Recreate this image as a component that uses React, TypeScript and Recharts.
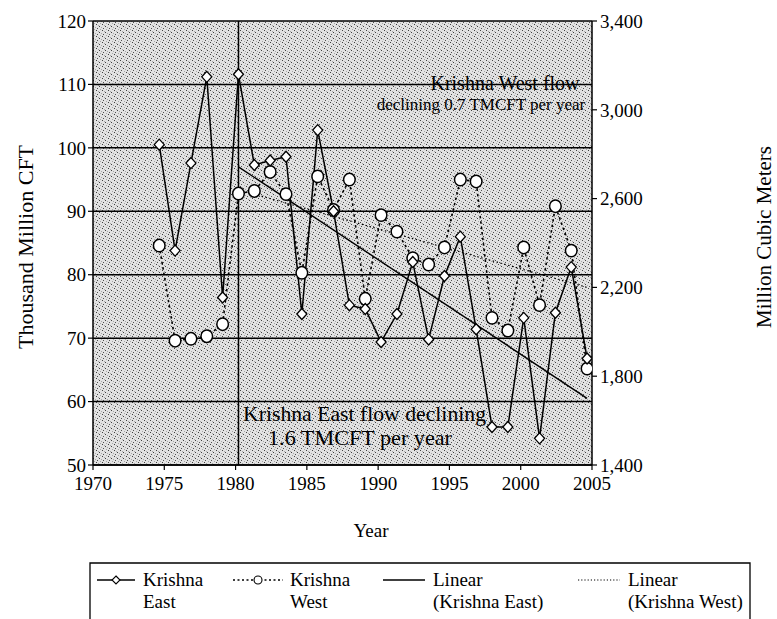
import React from 'react';
import { LineChart, Line, XAxis, YAxis, CartesianGrid, ReferenceLine } from 'recharts';

const years = [1974, 1975, 1976, 1977, 1978, 1979, 1980, 1981, 1982, 1983, 1984, 1985, 1986, 1987,
  1988, 1989, 1990, 1991, 1992, 1993, 1994, 1995, 1996, 1997, 1998, 1999, 2000, 2001];
const krishnaEast = [100.5, 83.8, 97.6, 111.2, 76.4, 111.6, 97.3, 98.0, 98.6, 73.8, 102.8, 90.0, 75.2, 74.6,
  69.4, 73.8, 82.0, 69.8, 79.8, 86.0, 71.4, 56.0, 56.0, 73.2, 54.2, 74.0, 81.2, 66.8];
const krishnaWest = [84.6, 69.6, 69.9, 70.3, 72.2, 92.8, 93.2, 96.2, 92.7, 80.3, 95.5, 90.2, 95.0, 76.2,
  89.4, 86.8, 82.6, 81.6, 84.3, 95.0, 94.7, 73.2, 71.2, 84.3, 75.2, 90.8, 83.8, 65.2];
const trendYears = [1979, 2001];
const eastTrend = [97.0, 60.5];
const westTrend = [93.4, 78.0];
const xTickLabels = [1970, 1975, 1980, 1985, 1990, 1995, 2000, 2005];
const leftTicks = [50, 60, 70, 80, 90, 100, 110, 120];
const rightTicks = [1400, 1800, 2200, 2600, 3000, 3400];

const rows = years.map((y, i) => ({ year: y, east: krishnaEast[i], west: krishnaWest[i] }));
const eastTrendRows = trendYears.map((y, i) => ({ year: y, v: eastTrend[i] }));
const westTrendRows = trendYears.map((y, i) => ({ year: y, v: westTrend[i] }));
const labelAxisRows = [{ year: xTickLabels[0], v: null }, { year: xTickLabels[xTickLabels.length - 1], v: null }];

const FONT = '"Liberation Serif", "Times New Roman", serif';
const tickStyle = { fontSize: 19, fontFamily: FONT, fill: '#000' };

const DiamondDot = (props: any) => {
  const { cx, cy, index } = props;
  if (cx == null || cy == null) return null;
  return (
    <polygon key={'d' + index}
      points={`${cx},${cy - 5.5} ${cx + 5},${cy} ${cx},${cy + 5.5} ${cx - 5},${cy}`}
      fill="#fff" stroke="#000" strokeWidth={1.3} />
  );
};
const CircleDot = (props: any) => {
  const { cx, cy, index } = props;
  if (cx == null || cy == null) return null;
  return <ellipse key={'c' + index} cx={cx} cy={cy} rx={5.8} ry={6.2} fill="#fff" stroke="#000" strokeWidth={1.5} />;
};

export default function App() {
  return (
    <div style={{ position: 'absolute', left: 0, top: 0, width: 777, height: 619, fontFamily: FONT, overflow: 'hidden', background: '#fff' }}>
      <svg width={0} height={0} style={{ position: 'absolute' }}>
        <defs>
          <pattern id="stipple" x={0} y={0} width={6} height={6} patternUnits="userSpaceOnUse">
            <rect x={0} y={0} width={6} height={6} fill="#e2e2e2" />
            <rect x={0} y={0} width={1} height={1} fill="#404040" />
            <rect x={3} y={2} width={1} height={1} fill="#404040" />
            <rect x={1} y={4} width={1} height={1} fill="#505050" />
            <rect x={4} y={5} width={1} height={1} fill="#a8a8a8" />
            <rect x={2} y={1} width={1} height={1} fill="#a8a8a8" />
            <rect x={5} y={3} width={1} height={1} fill="#a8a8a8" />
          </pattern>
        </defs>
      </svg>
      <LineChart width={777} height={619} margin={{ top: 21, right: 0, bottom: 0, left: 0 }}>
        <CartesianGrid xAxisId="lab" yAxisId="left" vertical={false} fill="url(#stipple)" fillOpacity={1}
          stroke="#000" strokeWidth={1.5} />
        <XAxis xAxisId="lab" type="number" dataKey="year" domain={[1970, 2005]} ticks={xTickLabels} interval={0}
          height={154} tick={tickStyle} tickSize={5} tickMargin={7}
          axisLine={{ stroke: '#000', strokeWidth: 1.5 }} tickLine={{ stroke: '#000', strokeWidth: 1.2 }} allowDataOverflow />
        <XAxis xAxisId="data" type="number" dataKey="year" domain={[1969.82, 2001.31]} hide height={0} allowDataOverflow />
        <YAxis yAxisId="left" type="number" domain={[50, 120]} ticks={leftTicks} interval={0} width={93}
          tick={tickStyle} tickSize={5} tickMargin={2}
          axisLine={{ stroke: '#000', strokeWidth: 1.5 }} tickLine={{ stroke: '#000', strokeWidth: 1.2 }} allowDataOverflow />
        <YAxis yAxisId="right" orientation="right" type="number" domain={[1400, 3400]} ticks={rightTicks} interval={0}
          width={185} tick={tickStyle} tickSize={5} tickMargin={3}
          tickFormatter={(v: number) => v.toLocaleString('en-US')}
          axisLine={{ stroke: '#000', strokeWidth: 1.5 }} tickLine={{ stroke: '#000', strokeWidth: 1.2 }} allowDataOverflow />
        <Line xAxisId="lab" yAxisId="left" data={labelAxisRows} dataKey="v" stroke="none" dot={false}
          activeDot={false} isAnimationActive={false} legendType="none" />
        <ReferenceLine xAxisId="data" yAxisId="left" x={1979} stroke="#000" strokeWidth={1.5} ifOverflow="extendDomain" />
        <Line xAxisId="data" yAxisId="left" data={westTrendRows} dataKey="v" stroke="#000" strokeWidth={1.2}
          strokeDasharray="1.5 2.5" dot={false} activeDot={false} isAnimationActive={false} />
        <Line xAxisId="data" yAxisId="left" data={eastTrendRows} dataKey="v" stroke="#000" strokeWidth={1.4}
          dot={false} activeDot={false} isAnimationActive={false} />
        <Line xAxisId="data" yAxisId="left" data={rows} dataKey="west" stroke="#000" strokeWidth={1.6}
          strokeDasharray="2.5 3" dot={<CircleDot />} activeDot={false} isAnimationActive={false} />
        <Line xAxisId="data" yAxisId="left" data={rows} dataKey="east" stroke="#000" strokeWidth={1.5}
          dot={<DiamondDot />} activeDot={false} isAnimationActive={false} />
      </LineChart>
      <svg width={777} height={619} style={{ position: 'absolute', left: 0, top: 0, pointerEvents: 'none' }}
        fontFamily={FONT} fontSize={19} fill="#000">
        <text x={505} y={90} textAnchor="middle" fontSize={20}>Krishna West flow</text>
        <text x={481} y={110} textAnchor="middle" fontSize={17}>declining 0.7 TMCFT per year</text>
        <text x={243} y={421} fontSize={21} textLength={243} lengthAdjust="spacingAndGlyphs">Krishna East flow declining</text>
        <text x={268} y={445} fontSize={21} textLength={184} lengthAdjust="spacingAndGlyphs">1.6 TMCFT per year</text>
        <text x={25} y={247} textAnchor="middle" dominantBaseline="central" fontSize={22} transform="rotate(-90 25 247)">Thousand Million CFT</text>
        <text x={764} y={237} textAnchor="middle" dominantBaseline="central" fontSize={21} transform="rotate(-90 764 237)">Million Cubic Meters</text>
        <text x={371} y={530} textAnchor="middle" dominantBaseline="central">Year</text>
        <path d="M90,619 L90,563 L750,563 L750,619" fill="none" stroke="#000" strokeWidth={1.3} />
        <line x1={97} y1={580} x2={135} y2={580} stroke="#000" strokeWidth={1.3} />
        <polygon points="116,576 120,580 116,584 112,580" fill="#fff" stroke="#000" strokeWidth={1.1} />
        <text x={143} y={586}>Krishna</text>
        <text x={143} y={608}>East</text>
        <line x1={233} y1={580} x2={283} y2={580} stroke="#000" strokeWidth={1.3} strokeDasharray="2 2.5" />
        <circle cx={258} cy={580} r={4} fill="#fff" stroke="#000" strokeWidth={1.1} />
        <text x={290} y={586}>Krishna</text>
        <text x={290} y={608}>West</text>
        <line x1={383} y1={580} x2={425} y2={580} stroke="#000" strokeWidth={1.3} />
        <text x={433} y={586}>Linear</text>
        <text x={433} y={608}>(Krishna East)</text>
        <line x1={578} y1={580} x2={620} y2={580} stroke="#000" strokeWidth={1.1} strokeDasharray="1.2 2" />
        <text x={628} y={586}>Linear</text>
        <text x={628} y={608}>(Krishna West)</text>
      </svg>
    </div>
  );
}
